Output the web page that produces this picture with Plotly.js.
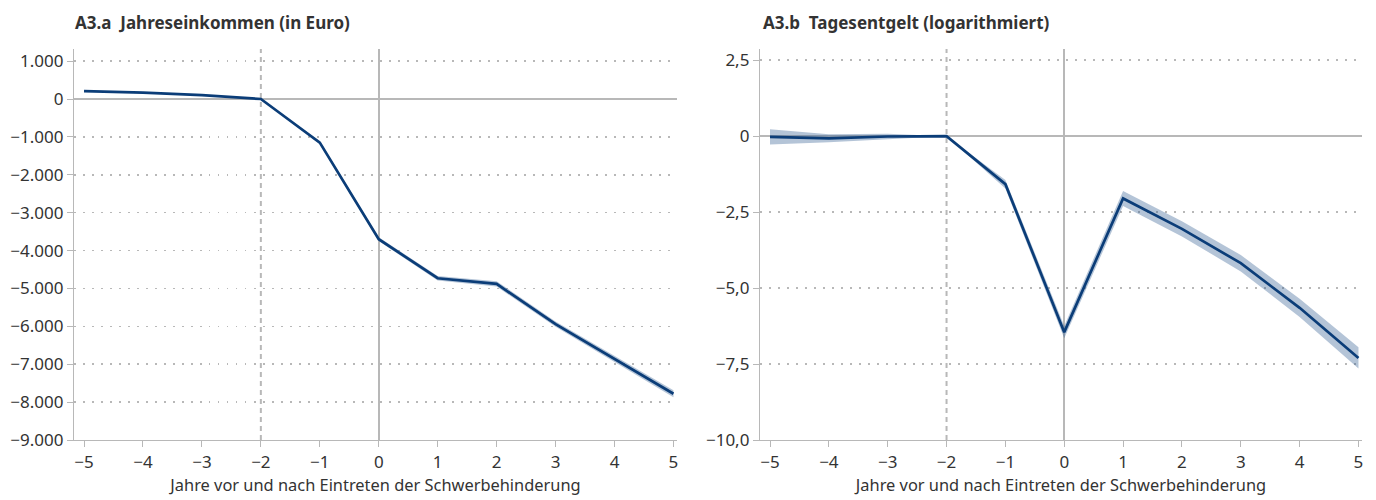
<!DOCTYPE html>
<html><head><meta charset="utf-8">
<script src="https://cdn.plot.ly/plotly-3.0.1.min.js"></script>
<style>html,body{margin:0;padding:0;background:#fff}#chart{width:1376px;height:500px}</style>
</head><body><div id="chart"></div>
<script>
// ---- data ----
const years = [-5,-4,-3,-2,-1,0,1,2,3,4,5];
const incomeEst  = [210,170,100,0,-1150,-3700,-4730,-4880,-5940,-6850,-7780];
const incomeLow  = [195,155,85,0,-1190,-3750,-4790,-4950,-6010,-6930,-7870];
const incomeHigh = [225,185,115,0,-1110,-3650,-4670,-4810,-5870,-6770,-7690];
const wageEst  = [-0.02,-0.07,-0.01,0,-1.58,-6.45,-2.05,-3.05,-4.18,-5.65,-7.3];
const wageLow  = [-0.27,-0.2,-0.1,0,-1.72,-6.65,-2.3,-3.3,-4.45,-5.95,-7.65];
const wageHigh = [0.23,0.06,0.08,0,-1.44,-6.25,-1.8,-2.8,-3.91,-5.35,-6.95];
const xTickVals = [-5,-4,-3,-2,-1,0,1,2,3,4,5];
const xTickText = ["−5","−4","−3","−2","−1","0","1","2","3","4","5"];
const incomeTickVals = [1000,0,-1000,-2000,-3000,-4000,-5000,-6000,-7000,-8000,-9000];
const incomeTickText = ["1.000","0","−1.000","−2.000","−3.000","−4.000","−5.000","−6.000","−7.000","−8.000","−9.000"];
const wageTickVals = [2.5,0,-2.5,-5,-7.5,-10];
const wageTickText = ["2,5","0","−2,5","−5,0","−7,5","−10,0"];
const titleA = "A3.a\u00a0 Jahreseinkommen (in Euro)";
const titleB = "A3.b\u00a0 Tagesentgelt (logarithmiert)";
const xTitle = "Jahre vor und nach Eintreten der Schwerbehinderung";
const treatmentYear = -2;

// ---- style ----
const lineColor = "#0b3d78";
const bandColor = "rgba(40,85,140,0.35)";
const gridColor = "#b8b8b8";
const font = "Noto Sans, Open Sans, sans-serif";

function band(low, high, xa, ya){
  return [
    {x: years, y: low, xaxis: xa, yaxis: ya, mode: "lines", line: {width: 0}, hoverinfo: "skip", showlegend: false},
    {x: years, y: high, xaxis: xa, yaxis: ya, mode: "lines", line: {width: 0}, fill: "tonexty", fillcolor: bandColor, hoverinfo: "skip", showlegend: false}
  ];
}
const traces = [
  ...band(incomeLow, incomeHigh, "x", "y"),
  {x: years, y: incomeEst, xaxis: "x", yaxis: "y", mode: "lines", line: {color: lineColor, width: 2.7}, showlegend: false},
  ...band(wageLow, wageHigh, "x2", "y2"),
  {x: years, y: wageEst, xaxis: "x2", yaxis: "y2", mode: "lines", line: {color: lineColor, width: 2.7}, showlegend: false}
];

function xaxis(domain, anchor){
  return {domain, anchor, range: [-5.17, 5.06], tickvals: xTickVals, ticktext: xTickText,
    showgrid: false, zeroline: true, zerolinecolor: gridColor, zerolinewidth: 1.8,
    showline: true, linecolor: gridColor, linewidth: 1.2, ticks: "outside", ticklen: 6, tickcolor: gridColor,
    tickfont: {size: 17, color: "#333"},
    title: {text: xTitle, font: {size: 16.4, color: "#333"}, standoff: 8}};
}
function yaxis(range, tv, tt, anchor){
  return {domain: [0.12, 0.902], anchor, range, tickvals: tv, ticktext: tt,
    showgrid: true, gridcolor: gridColor, griddash: "1.5px,7.5px", gridwidth: 1.5,
    zeroline: true, zerolinecolor: gridColor, zerolinewidth: 1.8,
    showline: true, linecolor: gridColor, linewidth: 1.2, ticks: "outside", ticklen: 6, tickcolor: gridColor,
    tickfont: {size: 17, color: "#333"}};
}

const layout = {
  width: 1376, height: 500, margin: {l: 0, r: 0, t: 0, b: 0},
  paper_bgcolor: "#fff", plot_bgcolor: "#fff",
  font: {family: font, color: "#333"},
  separators: ",.",
  xaxis: xaxis([74/1376, 677/1376], "y"),
  yaxis: yaxis([-9000, 1320], incomeTickVals, incomeTickText, "x"),
  xaxis2: xaxis([760/1376, 1362/1376], "y2"),
  yaxis2: yaxis([-10, 2.87], wageTickVals, wageTickText, "x2"),
  shapes: [
    {type: "line", xref: "x", yref: "y domain", x0: treatmentYear, x1: treatmentYear, y0: 0, y1: 1, line: {color: gridColor, width: 2, dash: "5px,4px"}, layer: "below"},
    {type: "line", xref: "x2", yref: "y2 domain", x0: treatmentYear, x1: treatmentYear, y0: 0, y1: 1, line: {color: gridColor, width: 2, dash: "5px,4px"}, layer: "below"}
  ],
  annotations: [
    {text: "<b>" + titleA + "</b>", xref: "paper", yref: "paper", x: 73/1376, y: 1 - 22/500, xanchor: "left", yanchor: "middle", showarrow: false, font: {size: 17, color: "#333"}},
    {text: "<b>" + titleB + "</b>", xref: "paper", yref: "paper", x: 761/1376, y: 1 - 22/500, xanchor: "left", yanchor: "middle", showarrow: false, font: {size: 17, color: "#333"}}
  ]
};
Plotly.newPlot("chart", traces, layout, {displayModeBar: false, staticPlot: true});
</script></body></html>
